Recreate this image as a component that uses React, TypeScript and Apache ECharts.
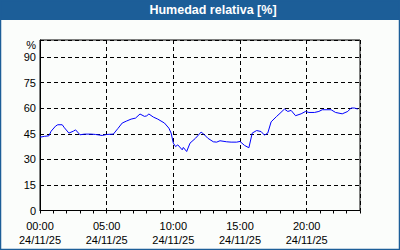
import React, { useEffect, useRef } from "react";
import * as echarts from "echarts";

const TITLE = "Humedad relativa [%]";
const DATE_LABEL = "24/11/25";
const Y_TICKS = [0, 15, 30, 45, 60, 75, 90];

const times = [
  "00:00", "00:20", "00:40", "00:50", "01:10", "01:20", "01:40", "01:50", "02:10", "02:30",
  "02:40", "03:00", "03:20", "03:50", "04:10", "04:40", "05:00", "05:30", "05:50", "06:10",
  "06:30", "06:50", "07:10", "07:30", "07:50", "08:00", "08:10", "08:30", "08:50", "09:20",
  "09:40", "09:50", "10:00", "10:10", "10:20", "10:40", "10:45", "11:00", "11:15", "11:40",
  "12:05", "12:20", "12:35", "13:00", "13:15", "13:30", "14:00", "14:20", "14:45", "15:00",
  "15:20", "15:40", "15:55", "16:15", "16:35", "16:50", "17:05", "17:20", "17:45", "18:00",
  "18:20", "18:35", "18:50", "19:10", "19:35", "19:55", "20:10", "20:35", "20:55", "21:10",
  "21:50", "22:10", "22:40", "23:05", "23:20", "23:35", "23:50",
];

const humidity = [
  43.0, 43.5, 43.8, 46.5, 49.5, 50.3, 50.3, 48.5, 45.4, 46.5,
  47.3, 44.4, 44.8, 44.8, 44.6, 44.0, 44.6, 44.8, 48.0, 51.3,
  52.5, 53.6, 54.2, 56.6, 55.2, 55.5, 56.6, 54.8, 53.6, 51.3,
  48.3, 45.4, 39.5, 37.5, 38.5, 35.6, 37.0, 34.6, 39.5, 42.4,
  46.0, 44.4, 42.4, 40.3, 40.1, 40.9, 40.3, 40.1, 40.1, 40.5,
  38.2, 36.8, 45.4, 46.9, 46.3, 44.2, 45.4, 52.0, 55.2, 57.0,
  59.5, 58.1, 58.7, 55.6, 56.7, 58.1, 57.5, 57.5, 58.1, 59.1,
  59.1, 57.5, 56.7, 58.1, 60.1, 60.1, 59.5,
];

const toHours = (t: string) => {
  const [h, m] = t.split(":").map(Number);
  return h + m / 60;
};

export default function App() {
  const ref = useRef<HTMLDivElement>(null);
  useEffect(() => {
    if (!ref.current) return;
    const chart = echarts.init(ref.current, null, { renderer: "svg" });
    const font = "Liberation Sans, Arial, sans-serif";
    const blue = "#1c5e98";
    chart.setOption({
      animation: false,
      backgroundColor: "#fbfdfb",
      graphic: [
        { type: "rect", shape: { x: 0, y: 0, width: 400, height: 20 }, style: { fill: blue }, silent: true },
        { type: "rect", shape: { x: 0.5, y: 0.5, width: 399, height: 249 }, style: { fill: "none", stroke: blue, lineWidth: 1.5 }, silent: true },
        {
          type: "text", x: 213, y: 10,
          style: { text: TITLE, fill: "#ffffff", font: `bold 12.5px ${font}`, align: "center", verticalAlign: "middle" },
        },
        {
          type: "text", x: 36, y: 45,
          style: { text: "%", fill: "#000000", font: `11px ${font}`, align: "right", verticalAlign: "middle" },
        },
      ],
      grid: {
        left: 40, top: 40, right: 40, bottom: 39.5,
        show: true, borderColor: "#000", borderWidth: 1, backgroundColor: "transparent",
      },
      xAxis: [
        {
          type: "value", min: 0, max: 24, interval: 5,
          axisLine: { show: true, lineStyle: { color: "#000", width: 1 } },
          axisTick: { show: false },
          splitLine: { show: true, lineStyle: { color: "#000", type: [4, 3], width: 1 } },
          axisLabel: {
            color: "#000", fontFamily: font, fontSize: 11, lineHeight: 14.5, margin: 8,
            showMaxLabel: false,
            formatter: (v: number) => {
              if (v >= 24) return "";
              const hh = String(v).padStart(2, "0");
              return `${hh}:00\n${DATE_LABEL}`;
            },
          },
        },
        {
          type: "value", min: 0, max: 24, interval: 1, position: "bottom",
          axisLine: { show: false },
          axisTick: { show: true, length: 3, lineStyle: { color: "#000", width: 1 } },
          splitLine: { show: false },
          axisLabel: { show: false },
        },
      ],
      yAxis: {
        type: "value", min: 0, max: 100, interval: 15,
        axisLine: { show: true, lineStyle: { color: "#000", width: 1 } },
        axisTick: { show: false },
        splitLine: { show: true, lineStyle: { color: "#000", type: [4, 3], width: 1 } },
        axisLabel: {
          color: "#000", fontFamily: font, fontSize: 11, margin: 4,
          formatter: (v: number) => (Y_TICKS.includes(v) ? String(v) : ""),
        },
      },
      series: [
        {
          type: "line",
          data: times.map((t, i) => [toHours(t), humidity[i]]),
          showSymbol: false,
          lineStyle: { color: "#0000ff", width: 1 },
          xAxisIndex: 0,
        },
      ],
    });
    return () => chart.dispose();
  }, []);
  return <div ref={ref} style={{ position: "fixed", left: 0, top: 0, width: 400, height: 250 }} />;
}
